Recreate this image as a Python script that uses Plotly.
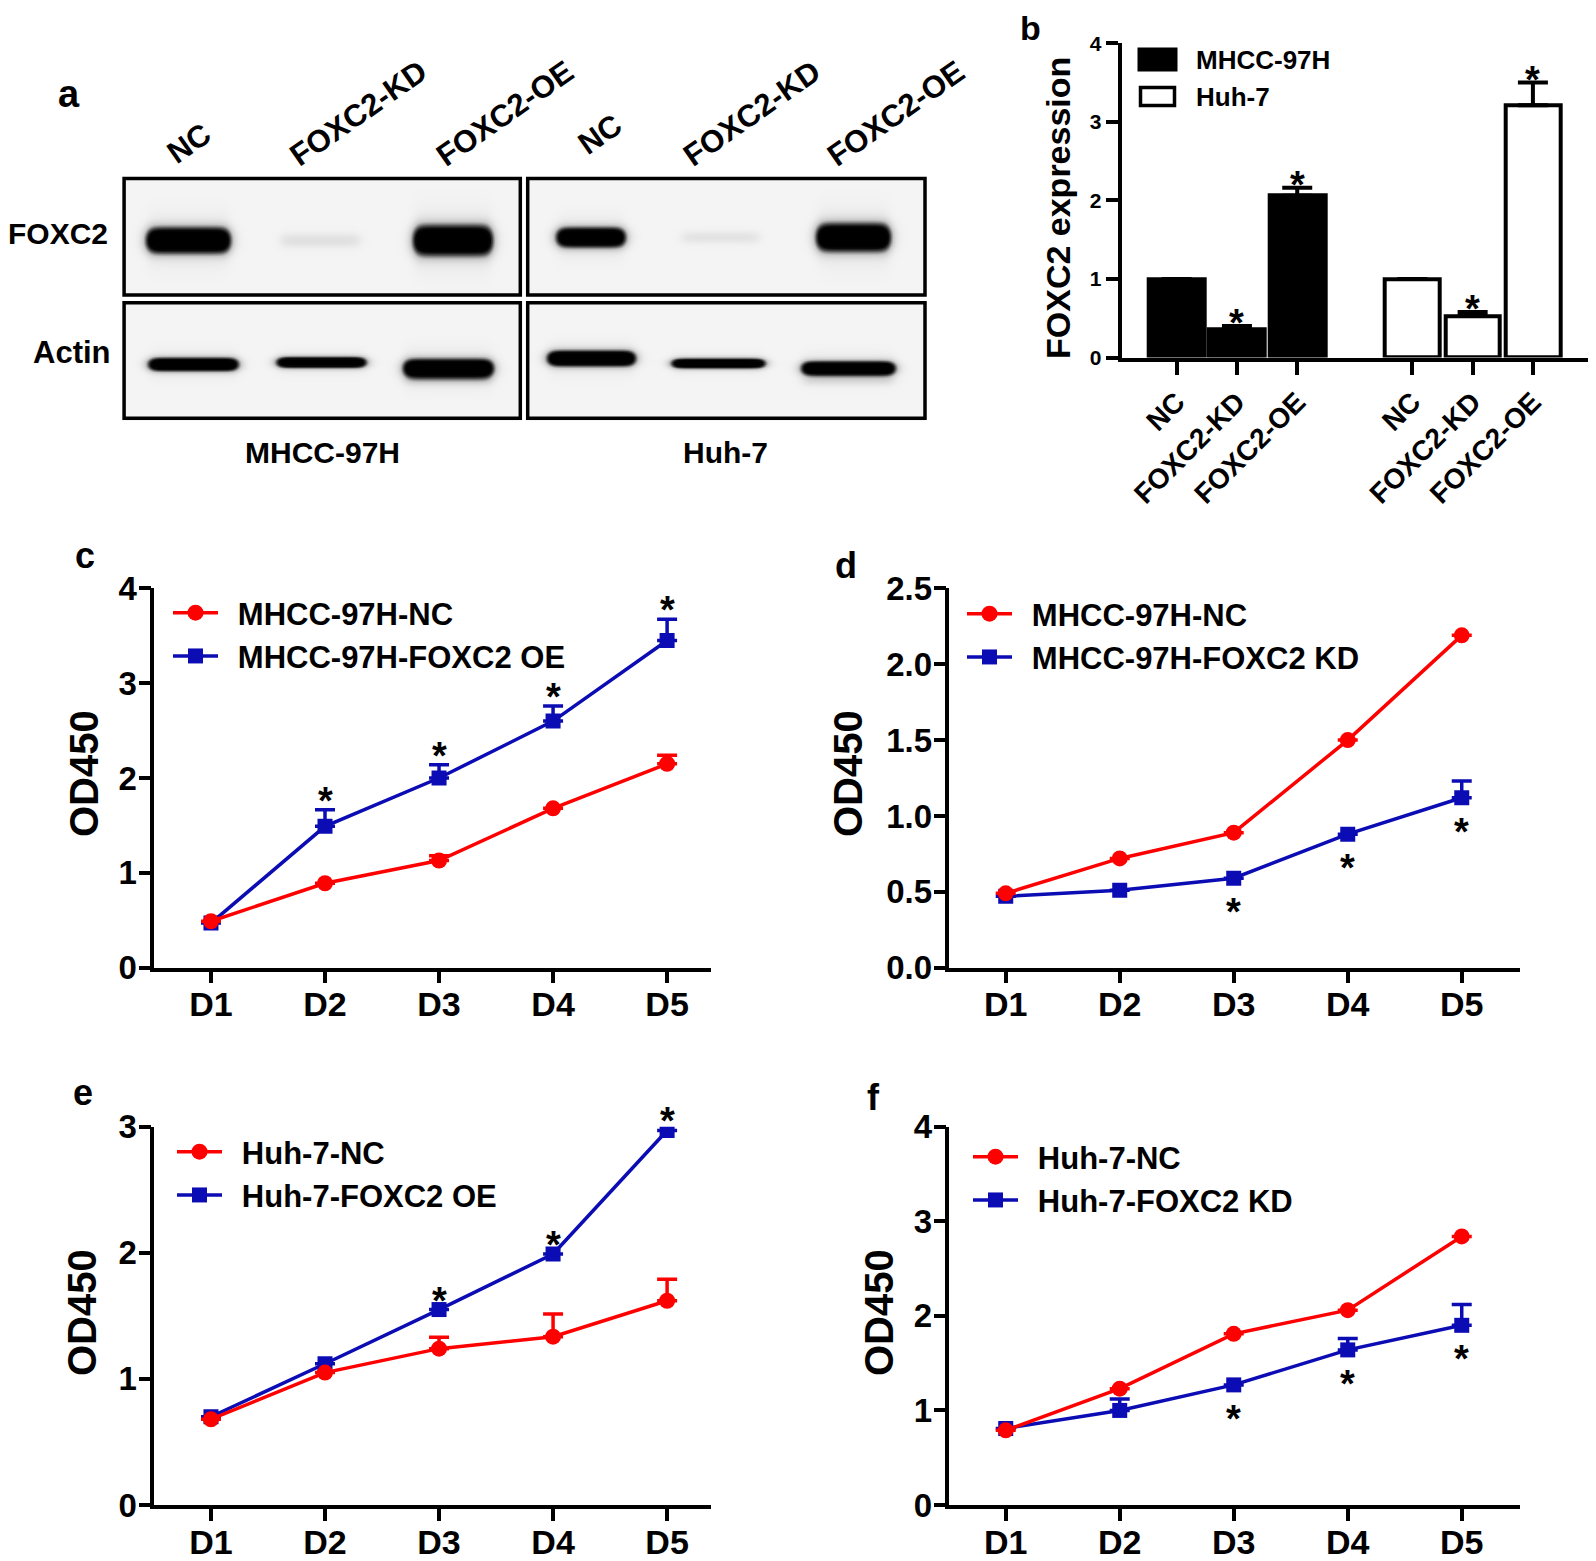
import numpy as np
import plotly.graph_objects as go

W, H = 1596, 1561
OFF = 8  # page body margin in the browser
FW, FH = W - OFF, H - OFF
FONT = "Liberation Sans, Arial, sans-serif"
RED = "#ff0000"
BLUE = "#0c0cb4"

# ---------------- data ----------------
days = ["D1", "D2", "D3", "D4", "D5"]

# panel a: western blot band intensities (relative darkness)
blot_conditions = ["NC", "FOXC2-KD", "FOXC2-OE"]
blot_cells = ["MHCC-97H", "Huh-7"]
blot_foxc2_mhcc = [1.0, 0.07, 1.0]
blot_foxc2_huh = [0.95, 0.06, 1.0]
blot_actin_mhcc = [0.95, 0.9, 1.0]
blot_actin_huh = [1.0, 0.9, 0.95]

# panel b
b_conditions = ["NC", "FOXC2-KD", "FOXC2-OE"]
b_mhcc = [1.0, 0.36, 2.06]
b_mhcc_err = [0.0, 0.04, 0.10]
b_mhcc_sig = [False, True, True]
b_huh = [1.0, 0.53, 3.21]
b_huh_err = [0.0, 0.05, 0.29]
b_huh_sig = [False, True, True]

# panel c
c_nc = [0.49, 0.89, 1.13, 1.68, 2.15]
c_nc_err = [0, 0, 0.05, 0, 0.09]
c_oe = [0.47, 1.49, 2.00, 2.60, 3.45]
c_oe_err = [0, 0.175, 0.14, 0.16, 0.225]
c_sig = [False, True, True, True, True]

# panel d
d_nc = [0.49, 0.72, 0.89, 1.50, 2.19]
d_nc_err = [0, 0, 0, 0, 0]
d_kd = [0.47, 0.51, 0.59, 0.88, 1.12]
d_kd_err = [0, 0, 0, 0, 0.11]
d_sig = [False, False, True, True, True]

# panel e
e_nc = [0.68, 1.05, 1.24, 1.335, 1.62]
e_nc_err = [0, 0, 0.09, 0.18, 0.17]
e_oe = [0.70, 1.12, 1.55, 1.99, 2.97]
e_oe_err = [0, 0, 0, 0, 0]
e_sig = [False, False, True, True, True]

# panel f
f_nc = [0.79, 1.23, 1.81, 2.06, 2.84]
f_nc_err = [0, 0, 0, 0, 0]
f_kd = [0.81, 1.0, 1.27, 1.64, 1.90]
f_kd_err = [0, 0.12, 0, 0.12, 0.22]
f_sig = [False, False, True, True, True]


def px(x):
    return (x - OFF) / FW


def py(y):
    return 1 - (y - OFF) / FH


def xdom(a, b):
    return [px(a), px(b)]


def ydom(top, bottom):
    return [py(bottom), py(top)]


fig = go.Figure()
annotations = []
shapes = []
BOLD = dict(family=FONT, color="black", weight="bold")


def txt(x, y, s, size, angle=0, xanchor="center", yanchor="middle"):
    annotations.append(dict(x=px(x), y=py(y), xref="paper", yref="paper", text=s,
                            showarrow=False, textangle=angle, xanchor=xanchor,
                            yanchor=yanchor, font=dict(BOLD, size=size)))


# ---------------- panel a (blot image) ----------------
bx = np.arange(115, 935, 2.0)
by = np.arange(170, 428, 2.0)
X, Y = np.meshgrid(bx, by)
Z = np.full(X.shape, np.nan)
box_x = [(122.4, 522.0), (526.0, 926.7)]
box_y = [(176.7, 296.7), (301.0, 420.0)]
for (x0, x1) in box_x:
    for (y0, y1) in box_y:
        m = (X >= x0) & (X <= x1) & (Y >= y0) & (Y <= y1)
        Z[m] = 0.0

# band geometry (layout): lanes x-extent, row center, thickness
geom = {
    ("MHCC-97H", "FOXC2"): ([(148, 228), (281, 359), (415, 490)], [240, 240, 240], [23, 14, 27]),
    ("Huh-7", "FOXC2"): ([(558, 623), (682, 758), (818, 888)], [237, 237, 237], [18, 12, 25]),
    ("MHCC-97H", "Actin"): ([(150, 236), (278, 364), (405, 491)], [364, 362, 368], [12, 10, 17]),
    ("Huh-7", "Actin"): ([(549, 633), (673, 763), (803, 893)], [358, 363, 368], [14, 9, 13]),
}
intens = {
    ("MHCC-97H", "FOXC2"): blot_foxc2_mhcc,
    ("Huh-7", "FOXC2"): blot_foxc2_huh,
    ("MHCC-97H", "Actin"): blot_actin_mhcc,
    ("Huh-7", "Actin"): blot_actin_huh,
}
band = np.zeros(X.shape)
for key, (lanes, ycs, ths) in geom.items():
    for k, ((x0, x1), yc, th, amp) in enumerate(zip(lanes, ycs, ths, intens[key])):
        hprof = 1 / (1 + np.exp(-(X - x0) / 3.0)) / (1 + np.exp(-(x1 - X) / 3.0))
        vprof = np.exp(-np.abs((Y - yc) / (th / 2)) ** 2.2)
        halo = np.exp(-((Y - yc) / th) ** 2)
        band += amp * (1.5 * hprof * vprof + 0.12 * hprof * halo)
        if key[1] == "Actin" and k == 2:
            band += amp * 0.12 * hprof * np.exp(-((Y - (yc + 12)) / 5) ** 2)
Z = np.where(np.isnan(Z), np.nan, np.clip(Z + band, 0, 1))

fig.add_trace(go.Heatmap(x=bx, y=by, z=Z, xaxis="x7", yaxis="y7", showscale=False,
                         zmin=0, zmax=1, zsmooth="best", hoverinfo="skip",
                         colorscale=[[0, "#f4f4f4"], [0.25, "#c8c8c8"], [0.55, "#4a4a4a"],
                                     [0.8, "#0a0a0a"], [1, "#000000"]]))
for (x0, x1) in box_x:
    for (y0, y1) in box_y:
        shapes.append(dict(type="rect", xref="x7", yref="y7", x0=x0 + 1.7, x1=x1 - 1.7,
                           y0=y0 + 1.7, y1=y1 - 1.7, line=dict(color="black", width=3.5)))

txt(69, 94, "a", 38)
txt(58, 234, "FOXC2", 30)
txt(72, 352, "Actin", 31)
txt(322, 452, blot_cells[0], 30)
txt(725, 452, blot_cells[1], 30)
col_centers = [(189, 144), (358, 113), (505, 114), (600, 135), (752, 114), (896, 114)]
for (cx, cy), lab in zip(col_centers, blot_conditions * 2):
    txt(cx, cy, lab, 31, angle=-35)

# ---------------- panel b ----------------
gap = 3.91
pos_m = [i for i in range(3)]
pos_h = [i + gap for i in range(3)]
fig.add_trace(go.Bar(x=pos_m, y=b_mhcc, width=0.93, xaxis="x2", yaxis="y2",
                     marker=dict(color="black", line=dict(color="black", width=4)),
                     error_y=dict(type="data", array=b_mhcc_err, arrayminus=[0] * 3, symmetric=False,
                                  color="black", thickness=4, width=15),
                     showlegend=False, name=blot_cells[0]))
fig.add_trace(go.Bar(x=pos_h, y=b_huh, width=0.91, xaxis="x2", yaxis="y2",
                     marker=dict(color="white", line=dict(color="black", width=4)),
                     error_y=dict(type="data", array=b_huh_err, arrayminus=[0] * 3, symmetric=False,
                                  color="black", thickness=4, width=15),
                     showlegend=False, name=blot_cells[1]))
for pos, vals, errs, sig in [(pos_m, b_mhcc, b_mhcc_err, b_mhcc_sig), (pos_h, b_huh, b_huh_err, b_huh_sig)]:
    for xv, v, e, s in zip(pos, vals, errs, sig):
        if s:
            annotations.append(dict(x=xv, y=v + e, xref="x2", yref="y2", text="*", showarrow=False,
                                    yanchor="middle", yshift=3, font=dict(BOLD, size=38)))
# legend b
shapes.append(dict(type="rect", xref="paper", yref="paper", x0=px(1139), x1=px(1176), y0=py(70), y1=py(49),
                   fillcolor="black", line=dict(color="black", width=3)))
shapes.append(dict(type="rect", xref="paper", yref="paper", x0=px(1140.5), x1=px(1174.5), y0=py(105.5), y1=py(87.5),
                   fillcolor="white", line=dict(color="black", width=3.5)))
txt(1194, 60, blot_cells[0], 26, xanchor="left")
txt(1194, 97, blot_cells[1], 26, xanchor="left")
txt(1030, 28, "b", 34)
txt(1058, 208, "FOXC2 expression", 34, angle=-90)

# ---------------- line panels ----------------
SP = "\u00a0\u2009"
panels = [
    ("x3", "y3", "legend", c_nc, c_nc_err, c_oe, c_oe_err, c_sig, "MHCC-97H-NC", "MHCC-97H-FOXC2 OE", True),
    ("x4", "y4", "legend2", d_nc, d_nc_err, d_kd, d_kd_err, d_sig, "MHCC-97H-NC", "MHCC-97H-FOXC2 KD", False),
    ("x5", "y5", "legend3", e_nc, e_nc_err, e_oe, e_oe_err, e_sig, "Huh-7-NC", "Huh-7-FOXC2 OE", True),
    ("x6", "y6", "legend4", f_nc, f_nc_err, f_kd, f_kd_err, f_sig, "Huh-7-NC", "Huh-7-FOXC2 KD", False),
]
for xa, ya, lg, nc, nce, tr, tre, sig, ncn, trn, above in panels:
    fig.add_trace(go.Scatter(x=days, y=tr, xaxis=xa, yaxis=ya, legend=lg, name=SP + trn,
                             mode="lines+markers", line=dict(color=BLUE, width=3.5),
                             marker=dict(symbol="square", size=15, color=BLUE),
                             error_y=dict(type="data", array=tre, arrayminus=[0] * 5, symmetric=False,
                                          color=BLUE, thickness=3.5, width=10)))
    fig.add_trace(go.Scatter(x=days, y=nc, xaxis=xa, yaxis=ya, legend=lg, name=SP + ncn,
                             mode="lines+markers", line=dict(color=RED, width=3.5),
                             marker=dict(symbol="circle", size=16, color=RED),
                             error_y=dict(type="data", array=nce, arrayminus=[0] * 5, symmetric=False,
                                          color=RED, thickness=3.5, width=10)))
    for d, v, e, s in zip(days, tr, tre, sig):
        if s:
            if above:
                annotations.append(dict(x=d, y=v + e, xref=xa, yref=ya, text="*", showarrow=False,
                                        yanchor="middle", yshift=9, font=dict(BOLD, size=38)))
            else:
                annotations.append(dict(x=d, y=v, xref=xa, yref=ya, text="*", showarrow=False,
                                        yanchor="middle", yshift=-34, font=dict(BOLD, size=38)))

txt(85, 555, "c", 36)
txt(846, 565, "d", 36)
txt(83, 1092, "e", 36)
txt(873, 1097, "f", 36)
txt(84, 774, "OD450", 40, angle=-90)
txt(848, 774, "OD450", 40, angle=-90)
txt(82, 1313, "OD450", 40, angle=-90)
txt(879, 1313, "OD450", 40, angle=-90)

AX = dict(showline=True, linecolor="black", linewidth=3.5, ticks="outside", ticklen=12,
          tickwidth=3.5, tickcolor="black", showgrid=False, zeroline=False, mirror=False,
          automargin=False)
xt = dict(AX, type="category", tickfont=dict(BOLD, size=34), ticklabelstandoff=-8)
yt = dict(AX, tickfont=dict(BOLD, size=33), ticklabelstandoff=-5)

layout = dict(
    template="none",
    width=FW, height=FH, margin=dict(l=0, r=0, t=0, b=0, pad=0, autoexpand=False),
    paper_bgcolor="white", plot_bgcolor="rgba(0,0,0,0)",
    showlegend=True, bargap=0,
    xaxis7=dict(domain=xdom(115, 935), range=[115, 935], visible=False, anchor="y7", automargin=False),
    yaxis7=dict(domain=ydom(170, 428), range=[428, 170], visible=False, anchor="x7", automargin=False),
    xaxis2=dict(AX, domain=xdom(1121.7, 1595), range=[-0.912, 6.94], anchor="y2", linewidth=4,
                tickwidth=4, ticklen=13, tickvals=pos_m + pos_h, ticktext=b_conditions * 2,
                tickangle=-45, tickfont=dict(BOLD, size=28)),
    yaxis2=dict(AX, domain=ydom(43.3, 357.5), range=[0, 4], anchor="x2", dtick=1, linewidth=4,
                tickwidth=4, tickfont=dict(BOLD, size=21)),
    xaxis3=dict(xt, domain=xdom(154.3, 711), range=[-0.497, 4.385], anchor="y3"),
    yaxis3=dict(yt, domain=ydom(588.3, 967.7), range=[0, 4], dtick=1, anchor="x3"),
    xaxis4=dict(xt, domain=xdom(949.4, 1520), range=[-0.494, 4.511], anchor="y4"),
    yaxis4=dict(yt, domain=ydom(588.3, 967.7), range=[0, 2.5], dtick=0.5, tickformat=".1f", anchor="x4"),
    xaxis5=dict(xt, domain=xdom(154.3, 711), range=[-0.497, 4.385], anchor="y5"),
    yaxis5=dict(yt, domain=ydom(1126.7, 1505), range=[0, 3], dtick=1, anchor="x5"),
    xaxis6=dict(xt, domain=xdom(949.4, 1520), range=[-0.494, 4.511], anchor="y6"),
    yaxis6=dict(yt, domain=ydom(1126.7, 1505), range=[0, 4], dtick=1, anchor="x6"),
    annotations=annotations, shapes=shapes,
)
LEG = dict(xanchor="left", yanchor="top", font=dict(BOLD, size=31), bgcolor="rgba(0,0,0,0)",
           traceorder="reversed", itemwidth=45, tracegroupgap=0)
layout["legend"] = dict(LEG, x=px(168), y=py(586))
layout["legend2"] = dict(LEG, x=px(962), y=py(587))
layout["legend3"] = dict(LEG, x=px(172), y=py(1125))
layout["legend4"] = dict(LEG, x=px(968), y=py(1130))
fig.update_layout(**layout)

fig.write_html("out.html")
